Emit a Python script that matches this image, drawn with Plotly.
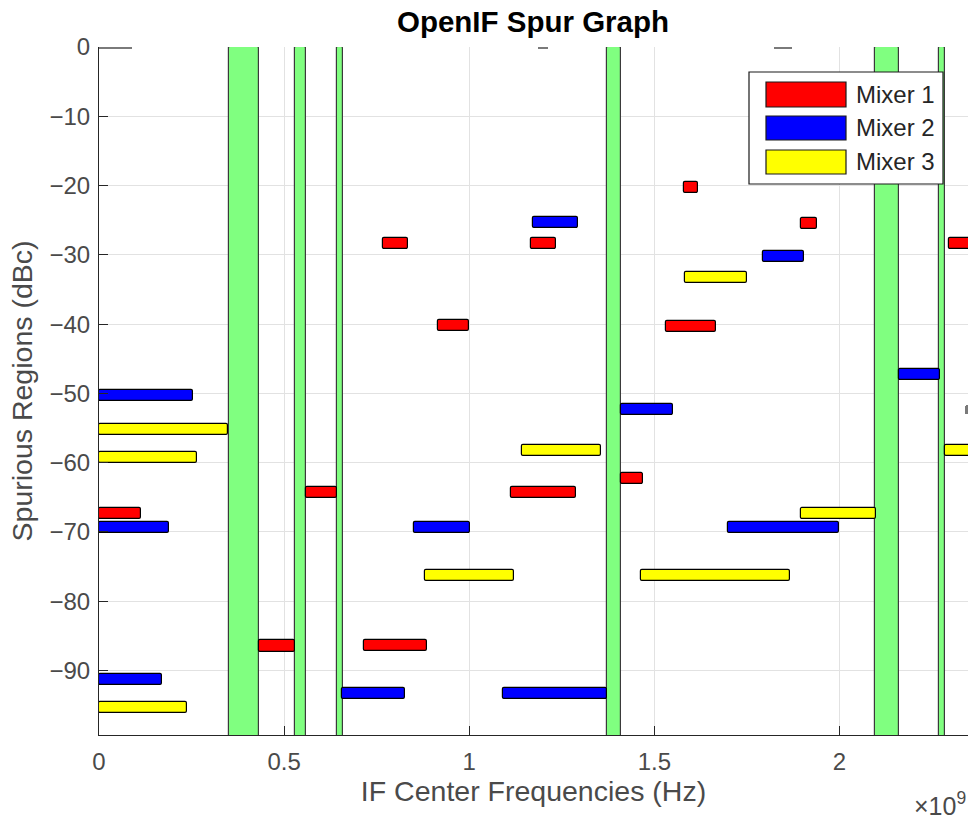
import plotly.graph_objects as go

# ---------------- data (x in units of 1e9 Hz, y in dBc) ----------------
mixer1_start = [0.000, 0.433, 0.558, 0.766, 0.716, 0.915, 1.113, 1.167, 1.410, 1.531, 1.581, 1.896, 2.296]
mixer1_end   = [0.114, 0.530, 0.642, 0.835, 0.885, 0.999, 1.288, 1.233, 1.469, 1.666, 1.617, 1.938, 2.400]
mixer1_level = [-67.35, -86.45, -64.3, -28.3, -86.4, -40.2, -64.3, -28.3, -62.3, -40.3, -20.3, -25.45, -28.3]

mixer2_start = [0.000, 0.000, 0.000, 0.655, 0.851, 1.090, 1.173, 1.410, 1.698, 1.792, 2.161]
mixer2_end   = [0.253, 0.190, 0.170, 0.826, 1.001, 1.372, 1.293, 1.549, 1.998, 1.905, 2.271]
mixer2_level = [-50.25, -69.3, -91.35, -93.3, -69.3, -93.3, -25.35, -52.3, -69.3, -30.3, -47.3]

mixer3_start = [0.000, 0.000, 0.000, 0.880, 1.142, 1.465, 1.582, 1.897, 2.285]
mixer3_end   = [0.349, 0.265, 0.237, 1.122, 1.356, 1.865, 1.749, 2.098, 2.400]
mixer3_level = [-55.2, -59.25, -95.35, -76.25, -58.2, -76.25, -33.3, -67.35, -58.3]

other_start  = [0.000, 1.186, 1.823, 2.340]
other_end    = [0.089, 1.213, 1.871, 2.360]
other_level  = [-0.1, -0.1, -0.1, -52.35]
other_height = [0.3, 0.3, 0.3, 1.3]

free_start = [0.351, 0.529, 0.642, 1.371, 2.096, 2.269]
free_end   = [0.432, 0.558, 0.660, 1.410, 2.161, 2.285]
free_bottom = -100.0
free_top = 0.0

spur_height = 1.6  # dBc thickness of each spur region

legend_names = ["Mixer 1", "Mixer 2", "Mixer 3"]
x_tick_vals = [0, 0.5, 1, 1.5, 2]
x_tick_text = ["0", "0.5", "1", "1.5", "2"]
y_tick_vals = [0, -10, -20, -30, -40, -50, -60, -70, -80, -90]

# ---------------- styling ----------------
RED, BLUE, YELLOW, GREEN = "#ff0000", "#0000ff", "#ffff00", "#80ff80"
FONT = "Liberation Sans, Arial, Helvetica, sans-serif"
AXCOL = "#262626"
TXT = "#4a4a4a"

fig = go.Figure()

# spur-free zones (vertical bars spanning the whole level range)
fig.add_trace(go.Bar(
    x=[(a + b) / 2 for a, b in zip(free_start, free_end)],
    y=[free_top - free_bottom] * len(free_start),
    base=[free_bottom] * len(free_start),
    width=[b - a for a, b in zip(free_start, free_end)],
    orientation="v",
    marker=dict(color=GREEN, line=dict(color="#3a3a3a", width=1.2), cornerradius=2),
    showlegend=False, hoverinfo="skip",
))

def add_spurs(starts, ends, levels, color, heights=None, line_w=1.2, line_c="#000000"):
    if heights is None:
        heights = [spur_height] * len(starts)
    fig.add_trace(go.Bar(
        y=levels,
        x=[b - a for a, b in zip(starts, ends)],
        base=starts,
        width=heights,
        orientation="h",
        marker=dict(color=color, line=dict(color=line_c, width=line_w), cornerradius=2),
        showlegend=False, hoverinfo="skip",
    ))

add_spurs(other_start, other_end, other_level, "#7a7a7a", heights=other_height, line_w=0)
add_spurs(mixer1_start, mixer1_end, mixer1_level, RED)
add_spurs(mixer2_start, mixer2_end, mixer2_level, BLUE)
add_spurs(mixer3_start, mixer3_end, mixer3_level, YELLOW)

# ---------------- layout ----------------
W, H = 970, 822
ML, MR, MT, MB = 99, 2, 47, 87
PW, PH = W - ML - MR, H - MT - MB

def px(xp):
    return (xp - ML) / PW

def py(yp):
    return (H - MB - yp) / PH

fig.update_layout(
    width=W, height=H,
    margin=dict(l=ML, r=MR, t=MT, b=MB),
    plot_bgcolor="white", paper_bgcolor="white",
    barmode="overlay", bargap=0,
    showlegend=False,
    font=dict(family=FONT, color=AXCOL, size=24),
    title=dict(text="<b>OpenIF Spur Graph</b>", x=px(533), xref="paper", xanchor="center",
               y=1 - 22 / H, yref="container", yanchor="middle",
               font=dict(size=29.5, family=FONT, color="#000000")),
)

fig.update_xaxes(
    range=[0, 2.347], tickvals=x_tick_vals, ticktext=x_tick_text,
    ticks="inside", ticklen=9, tickwidth=1, tickcolor=AXCOL,
    showline=True, linecolor=AXCOL, linewidth=1.2, mirror=False,
    showgrid=True, gridcolor="#e2e2e2", gridwidth=1, zeroline=False,
    tickfont=dict(size=24, color=TXT), ticklabelstandoff=5,
    title=dict(text="IF Center Frequencies (Hz)", font=dict(size=28.5, color=TXT), standoff=6),
)
fig.update_yaxes(
    range=[-99.3, 0], tickvals=y_tick_vals,
    ticks="inside", ticklen=9, tickwidth=1, tickcolor=AXCOL,
    showline=True, linecolor=AXCOL, linewidth=1.2, mirror=False,
    showgrid=True, gridcolor="#e2e2e2", gridwidth=1, zeroline=False,
    tickfont=dict(size=24, color=TXT), ticklabelstandoff=3,
    title=dict(text="Spurious Regions (dBc)", font=dict(size=28.5, color=TXT), standoff=8),
)

# exponent label
fig.add_annotation(text="×10<sup>9</sup>", xref="paper", yref="paper",
                   x=px(968), y=py(804), xanchor="right", yanchor="middle",
                   showarrow=False, font=dict(size=25, color=TXT, family=FONT))

# manual legend (box, patches, labels)
fig.add_shape(type="rect", xref="paper", yref="paper",
              x0=px(749), x1=px(943), y0=py(184), y1=py(72),
              fillcolor="white", line=dict(color="#1a1a1a", width=1.2), layer="above")
patch_rows = [(82, 107), (116, 140), (150, 174)]
for name, col, (t, b) in zip(legend_names, [RED, BLUE, YELLOW], patch_rows):
    fig.add_shape(type="rect", xref="paper", yref="paper",
                  x0=px(766), x1=px(846), y0=py(b), y1=py(t),
                  fillcolor=col, line=dict(color="#1a1a1a", width=1.2), layer="above")
    fig.add_annotation(text=name, xref="paper", yref="paper",
                       x=px(854), y=py((t + b) / 2), xanchor="left", yanchor="middle",
                       showarrow=False, font=dict(size=24, color="#262626", family=FONT))

fig.write_html("out.html", config={"displayModeBar": False},
               post_script="document.body.style.margin='0';document.body.style.overflow='hidden';")
